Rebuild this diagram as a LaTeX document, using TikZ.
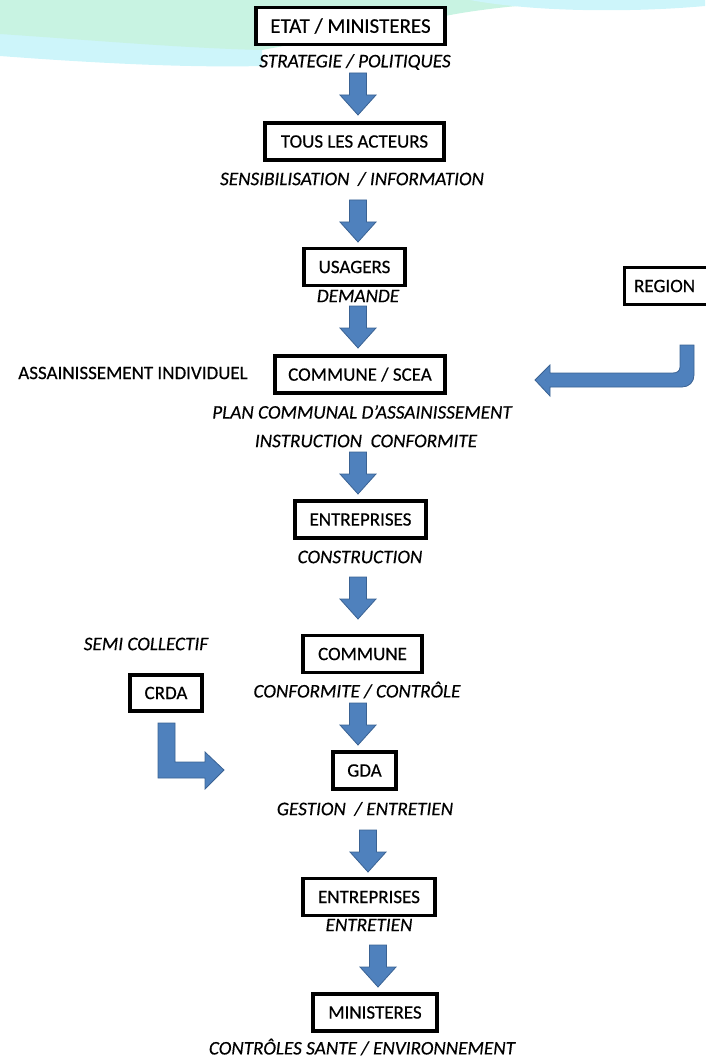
\documentclass[tikz,border=0pt]{standalone}
\usepackage{fontspec}
\setmainfont{Carlito}[FakeBold=0.4]
\usepackage{tikz}
\usetikzlibrary{positioning}
\definecolor{arrowblue}{HTML}{4F81BD}
\definecolor{arrowedge}{HTML}{3A6293}
\definecolor{wavemint}{HTML}{C8F3E2}
\definecolor{wavecyan}{HTML}{CDF5FA}
\newcommand\boxfont{\fontsize{19}{23}\selectfont}
\newcommand\bigboxfont{\fontsize{21}{25}\selectfont}
\newcommand\lblfont{\fontsize{19.2}{23}\selectfont\itshape}
\tikzset{
  box/.style={draw, line width=3.2pt, fill=white, inner sep=0pt,
              minimum height=37pt, font=\boxfont},
  lbl/.style={inner sep=0pt, font=\lblfont},
  blockarrow/.style={fill=arrowblue, draw=arrowedge, line width=0.8pt, line join=miter}
}
\begin{document}
\begin{tikzpicture}[x=1pt,y=-1pt]
  \useasboundingbox (0,0) rectangle (705,1059);
  % background wave
  \fill[wavecyan] (0,0) -- (0,56) .. controls (80,62) and (180,68) .. (262,66) -- (262,0) -- cycle;
  \fill[wavemint] (0,0) -- (0,34) .. controls (90,40) and (180,48) .. (262,50)
     -- (445,16) .. controls (480,9) and (540,2) .. (620,0) -- cycle;
  \fill[wavecyan] (470,0) .. controls (540,13) and (640,12) .. (705,6) -- (705,0) -- cycle;

  \def\flowarrow#1#2{%
    \draw[blockarrow] (#1-8.5,#2) -- (#1+8.5,#2) -- (#1+8.5,#2+22) -- (#1+18,#2+22)
      -- (#1,#2+42) -- (#1-18,#2+22) -- (#1-8.5,#2+22) -- cycle;
  }

  % main column
  \node[box, minimum width=189pt, font=\bigboxfont] (etat) at (350.5,26) {ETAT / MINISTERES};
  \node[lbl] (strategie) at (355,62) {STRATEGIE / POLITIQUES};
  \node[box, minimum width=179pt] (acteurs) at (354.5,141.5) {TOUS LES ACTEURS};
  \node[lbl] (sensib) at (352,179) {SENSIBILISATION \ / INFORMATION};
  \node[box, minimum width=101pt] (usagers) at (354.5,267) {USAGERS};
  \node[lbl] (demande) at (358,296) {DEMANDE};
  \node[box, minimum width=170pt] (scea) at (360,374.5) {COMMUNE / SCEA};
  \node[lbl] (plan) at (362,412) {PLAN COMMUNAL D’ASSAINISSEMENT};
  \node[lbl] (instruction) at (366,441) {INSTRUCTION \ CONFORMITE};
  \node[box, minimum width=131pt] (entreprises) at (360.5,519.5) {ENTREPRISES};
  \node[lbl] (construction) at (360,557) {CONSTRUCTION};
  \node[box, minimum width=119pt] (commune) at (362.5,654) {COMMUNE};
  \node[lbl] (conformite) at (357,690) {CONFORMITE / CONTRÔLE};
  \node[box, minimum width=63pt] (gda) at (364.5,770.5) {GDA};
  \node[lbl] (gestion) at (365,809) {GESTION \ / ENTRETIEN};
  \node[box, minimum width=132pt] (maintien) at (369,897) {ENTREPRISES};
  \node[lbl] (entretien) at (369,925) {ENTRETIEN};
  \node[box, minimum width=124pt] (ministeres) at (375,1012.5) {MINISTERES};
  \node[lbl] (controles) at (362,1047) {CONTRÔLES SANTE / ENVIRONNEMENT};

  \foreach \ax/\ay in {358/73, 358/200, 358/306, 358/452, 358/577, 358/703, 368/830, 378/945}
    \flowarrow{\ax}{\ay};

  % side branches
  \node[inner sep=0pt, font=\boxfont] (assind) at (133,373) {ASSAINISSEMENT INDIVIDUEL};
  \node[box, minimum width=92pt, anchor=west] (region) at (623,286) {\hspace*{-12pt}REGION};
  \draw[blockarrow] (680,345) -- (694,345) -- (694,375) .. controls (694,382) and (689,387) .. (682,387)
    -- (550,387) -- (550,396) -- (535,380) -- (550,365) -- (550,373) -- (673,373)
    .. controls (677,373) and (680,371) .. (680,367) -- cycle;

  \node[lbl] (semi) at (146,644) {SEMI COLLECTIF};
  \node[box, minimum width=72pt, minimum height=36pt] (crda) at (166,693) {CRDA};
  \draw[blockarrow] (158,723) -- (175,723) -- (175,762) -- (205,762) -- (205,752) -- (224,770)
    -- (205,789) -- (205,778) -- (158,778) -- cycle;
\end{tikzpicture}
\end{document}
